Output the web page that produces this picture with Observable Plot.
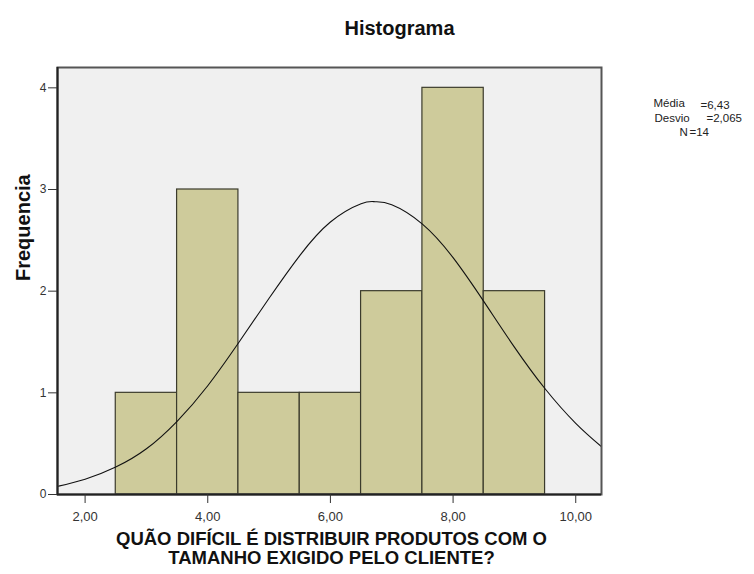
<!DOCTYPE html>
<html>
<head>
<meta charset="utf-8">
<script src="https://cdn.jsdelivr.net/npm/d3@7"></script>
<script src="https://cdn.jsdelivr.net/npm/@observablehq/plot@0.6"></script>
<style>
  html, body { margin: 0; padding: 0; background: #ffffff; }
  #chart { width: 754px; height: 574px; }
</style>
</head>
<body>
<div id="chart"></div>
<script>
// ---- data ----
const binStart = [2.5, 3.5, 4.5, 5.5, 6.5, 7.5, 8.5];
const binEnd   = [3.5, 4.5, 5.5, 6.5, 7.5, 8.5, 9.5];
const freq     = [1, 3, 1, 1, 2, 4, 2];

// normal curve, points
const curveX = [1.55, 2.0, 2.5, 3.0, 3.5, 4.0, 4.5, 5.0, 5.5, 6.0, 6.5, 6.73, 7.0, 7.5, 8.0, 8.5, 9.0, 9.5, 10.0, 10.42];
const curveY = [0.08, 0.15, 0.27, 0.45, 0.72, 1.07, 1.49, 1.93, 2.35, 2.68, 2.86, 2.88, 2.85, 2.66, 2.33, 1.90, 1.45, 1.04, 0.70, 0.47];

const xTicks = [2, 4, 6, 8, 10];
const xTickLabels = ["2,00", "4,00", "6,00", "8,00", "10,00"];
const yTicks = [0, 1, 2, 3, 4];

const titleText = "Histograma";
const yLabel = "Frequencia";
const xLabelLines = ["QUÃO DIFÍCIL É DISTRIBUIR PRODUTOS COM O", "TAMANHO EXIGIDO PELO CLIENTE?"];

const statLabels = ["Média", "Desvio", "N"];
const statValues = ["=6,43", "=2,065", "=14"];

// ---- build tables ----
const bins = binStart.map((s, i) => ({x1: s, x2: binEnd[i], y: freq[i]}));
const curve = curveX.map((x, i) => ({x, y: curveY[i]}));

// layout offsets for stats block (relative to frame top-right)
const statLabelPos = [[52, 31], [53, 46], [78, 60]];
const statValuePos = [[99, 33], [105, 46], [88, 60]];

const font = "'Liberation Sans', Arial, sans-serif";

const statMarks = [];
statLabels.forEach((t, i) => {
  statMarks.push(Plot.text([t], {frameAnchor: "top-right", textAnchor: "start", dx: statLabelPos[i][0], dy: statLabelPos[i][1], fontSize: 11.5, fill: "#222"}));
  statMarks.push(Plot.text([statValues[i]], {frameAnchor: "top-right", textAnchor: "start", dx: statValuePos[i][0], dy: statValuePos[i][1], fontSize: 11.5, fill: "#222"}));
});

const chart = Plot.plot({
  width: 754,
  height: 574,
  marginTop: 67,
  marginBottom: 80,
  marginLeft: 57,
  marginRight: 153,
  style: {fontFamily: font, color: "#333", background: "#ffffff", overflow: "visible"},
  x: {domain: [1.55, 10.42]},
  y: {domain: [0, 4.2]},
  marks: [
    Plot.frame({fill: "#f0f0f0", stroke: null}),
    Plot.rect(bins, {x1: "x1", x2: "x2", y1: 0, y2: "y", fill: "#cecb9b", stroke: "#3b3b2c", strokeWidth: 1.2, inset: 0}),
    Plot.line(curve, {x: "x", y: "y", curve: "natural", stroke: "#111", strokeWidth: 1.1, clip: true}),
    Plot.frame({stroke: "#555", strokeWidth: 2}),
    Plot.ruleX([1.55], {stroke: "#222", strokeWidth: 2}),
    Plot.ruleY([0], {stroke: "#222", strokeWidth: 2}),
    Plot.axisX({ticks: xTicks, tickFormat: (d) => xTickLabels[xTicks.indexOf(d)], tickSize: 9, tickPadding: 8, fontSize: 13, label: null, stroke: "#333"}),
    Plot.axisY({ticks: yTicks, tickFormat: (d) => String(d), tickSize: 9, tickPadding: 2, fontSize: 12, label: null, stroke: "#333"}),
    Plot.text([titleText], {frameAnchor: "top", dx: 70, dy: -47, fontSize: 20, fontWeight: "bold", fill: "#111"}),
    Plot.text([yLabel], {frameAnchor: "left", rotate: -90, dx: -34, fontSize: 20, fontWeight: "bold", fill: "#111"}),
    Plot.text([xLabelLines[0]], {frameAnchor: "bottom", dx: 2, dy: 50, fontSize: 18.5, fontWeight: "bold", fill: "#111"}),
    Plot.text([xLabelLines[1]], {frameAnchor: "bottom", dx: 2, dy: 69.5, fontSize: 18.5, fontWeight: "bold", fill: "#111"}),
    ...statMarks
  ]
});

document.getElementById("chart").appendChild(chart);
</script>
</body>
</html>
